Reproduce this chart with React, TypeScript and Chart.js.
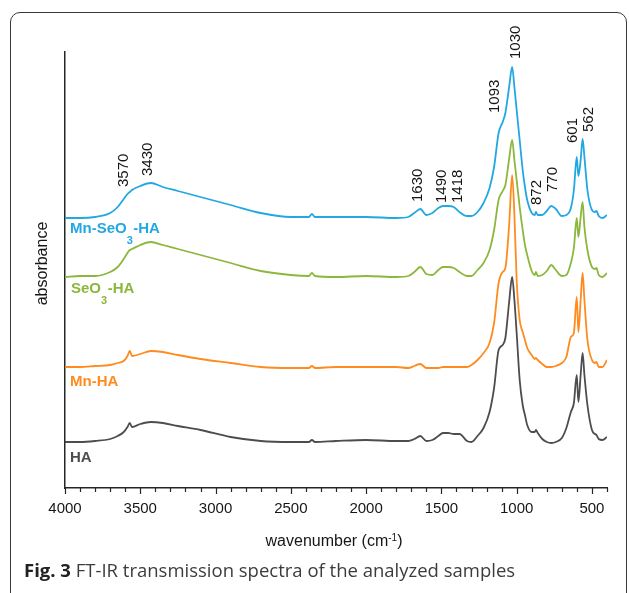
import React, { useEffect, useRef } from 'react';
import { Chart, registerables } from 'chart.js';

Chart.register(...registerables);

// ---------- data ----------
const wavenumbers = [
  4000, 3900, 3800, 3700, 3650, 3610, 3585, 3570, 3555, 3500,
  3430, 3350, 3250, 3100, 2900, 2700, 2500, 2380, 2360, 2340,
  2200, 2000, 1800, 1720, 1680, 1640, 1600, 1560, 1520, 1490,
  1455, 1418, 1380, 1330, 1300, 1260, 1220, 1180, 1150, 1120,
  1093, 1075, 1050, 1030, 1015, 1000, 980, 960, 945, 930,
  900, 880, 872, 860, 830, 800, 770, 740, 700, 670,
  640, 620, 601, 590, 575, 562, 550, 530, 500, 480,
  470, 455, 430, 400,
];

const mnSeo3HaValues = [
  2.70, 2.70, 2.71, 2.75, 2.81, 2.89, 2.94, 2.96, 2.98, 3.02,
  3.05, 3.01, 2.97, 2.91, 2.83, 2.75, 2.71, 2.71, 2.74, 2.71,
  2.71, 2.71, 2.70, 2.71, 2.75, 2.79, 2.73, 2.75, 2.80, 2.82,
  2.82, 2.81, 2.76, 2.72, 2.72, 2.76, 2.85, 3.00, 3.21, 3.55,
  3.66, 3.75, 4.01, 4.21, 4.01, 3.78, 3.48, 3.18, 3.01, 2.88,
  2.75, 2.73, 2.76, 2.73, 2.73, 2.77, 2.82, 2.79, 2.72, 2.73,
  2.80, 2.98, 3.31, 3.12, 3.28, 3.49, 3.31, 2.98, 2.78, 2.76,
  2.77, 2.72, 2.70, 2.73,
];

const seo3HaValues = [
  2.11, 2.12, 2.12, 2.16, 2.21, 2.29, 2.35, 2.38, 2.39, 2.43,
  2.46, 2.43, 2.39, 2.33, 2.25, 2.17, 2.13, 2.12, 2.15, 2.12,
  2.11, 2.12, 2.11, 2.12, 2.16, 2.21, 2.14, 2.13, 2.18, 2.21,
  2.21, 2.20, 2.16, 2.12, 2.12, 2.18, 2.25, 2.38, 2.58, 2.88,
  2.97, 3.03, 3.29, 3.48, 3.28, 3.08, 2.81, 2.58, 2.43, 2.33,
  2.17, 2.13, 2.16, 2.12, 2.13, 2.17, 2.23, 2.18, 2.12, 2.13,
  2.25, 2.40, 2.70, 2.51, 2.71, 2.86, 2.61, 2.38, 2.21, 2.19,
  2.20, 2.13, 2.11, 2.15,
];

const mnHaValues = [
  1.21, 1.21, 1.22, 1.23, 1.25, 1.27, 1.32, 1.37, 1.32, 1.34,
  1.37, 1.36, 1.33, 1.29, 1.25, 1.21, 1.20, 1.20, 1.22, 1.20,
  1.21, 1.21, 1.21, 1.20, 1.22, 1.24, 1.20, 1.20, 1.20, 1.21,
  1.21, 1.21, 1.21, 1.21, 1.23, 1.28, 1.35, 1.45, 1.65, 2.05,
  2.16, 2.20, 2.63, 3.13, 2.73, 2.08, 1.68, 1.56, 1.48, 1.40,
  1.33, 1.29, 1.30, 1.28, 1.24, 1.21, 1.21, 1.22, 1.25, 1.31,
  1.51, 1.55, 1.91, 1.56, 1.88, 2.15, 1.88, 1.48, 1.28, 1.25,
  1.26, 1.21, 1.21, 1.28,
];

const haValues = [
  0.46, 0.46, 0.47, 0.49, 0.52, 0.56, 0.61, 0.65, 0.61, 0.64,
  0.66, 0.65, 0.62, 0.58, 0.51, 0.47, 0.46, 0.46, 0.48, 0.46,
  0.47, 0.48, 0.47, 0.47, 0.49, 0.52, 0.47, 0.48, 0.52, 0.55,
  0.55, 0.54, 0.54, 0.47, 0.46, 0.52, 0.60, 0.76, 1.00, 1.38,
  1.43, 1.50, 1.86, 2.11, 1.88, 1.55, 1.08, 0.83, 0.73, 0.63,
  0.56, 0.56, 0.58, 0.55, 0.49, 0.46, 0.45, 0.46, 0.50, 0.60,
  0.76, 0.85, 1.13, 0.86, 1.13, 1.35, 1.13, 0.83, 0.58, 0.54,
  0.53, 0.49, 0.48, 0.51,
];

const seriesNames = ['HA', 'Mn-HA', 'SeO3-HA', 'Mn-SeO3-HA'];
const xTickValues = [4000, 3500, 3000, 2500, 2000, 1500, 1000, 500];
const peakLabels = ['3570', '3430', '1630', '1490', '1418', '1093', '1030', '872', '770', '601', '562'];
const peakWavenumbers = [3570, 3430, 1630, 1490, 1418, 1093, 1030, 872, 770, 601, 562];

// ---------- layout & style (not data) ----------
const SANS = '"Liberation Sans", Arial, Helvetica, sans-serif';
const AXIS_COLOR = '#262626';
const TEXT_COLOR = '#161616';
const seriesColors = ['#4d4d4d', '#ff8b1f', '#8cb73c', '#22a8e1'];
const seriesValues = [haValues, mnHaValues, seo3HaValues, mnSeo3HaValues];
const seriesLabelParts: { t: string; sub?: boolean }[][] = [
  [{ t: 'HA' }],
  [{ t: 'Mn-HA' }],
  [{ t: 'SeO' }, { t: '3', sub: true }, { t: '-HA' }],
  [{ t: 'Mn-SeO' }, { t: '3', sub: true }, { t: '-HA' }],
];
const seriesLabelBaseline = [0.26, 1.02, 1.95, 2.55]; // y value of label baseline
const seriesLabelDx = [5, 5, 6, 5];
const peakLabelDx = [-7, -4.5, -5, -2, 2.8, -9, 2, 0, 0, -5, 5.5];
const peakLabelStart = [3.01, 3.12, 2.86, 2.85, 2.85, 3.75, 4.29, 2.83, 2.96, 3.45, 3.56];
const MINOR_STEP = 100;

const overlayPlugin = {
  id: 'ftirOverlay',
  afterDraw(chart: any) {
    const { ctx, chartArea: ca } = chart;
    const xs = chart.scales.x;
    const ys = chart.scales.y;
    ctx.save();

    // tick marks (major every 500, minor every 100)
    ctx.strokeStyle = AXIS_COLOR;
    ctx.lineWidth = 1.2;
    for (let w = xs.min; w <= xs.max; w += MINOR_STEP) {
      const px = Math.round(xs.getPixelForValue(w)) + 0.5;
      const len = w % 500 === 0 ? 6 : 4;
      ctx.beginPath();
      ctx.moveTo(px, ca.bottom);
      ctx.lineTo(px, ca.bottom + len);
      ctx.stroke();
    }

    // y axis title
    ctx.fillStyle = TEXT_COLOR;
    ctx.font = `16px ${SANS}`;
    ctx.save();
    ctx.translate(ca.left - 18, (ca.top + ca.bottom) / 2 - 6.5);
    ctx.rotate(-Math.PI / 2);
    ctx.textAlign = 'center';
    ctx.textBaseline = 'alphabetic';
    ctx.fillText('absorbance', 0, 0);
    ctx.restore();

    // x axis title with superscript
    {
      const main1 = 'wavenumber (cm';
      const sup = '-1';
      const main2 = ')';
      ctx.textAlign = 'left';
      ctx.textBaseline = 'alphabetic';
      ctx.font = `16px ${SANS}`;
      const w1 = ctx.measureText(main1).width;
      const w3 = ctx.measureText(main2).width;
      ctx.font = `10px ${SANS}`;
      const w2 = ctx.measureText(sup).width;
      const total = w1 + w2 + w3;
      const cx = (ca.left + ca.right) / 2 - 2;
      const by = ca.bottom + 57.7;
      let x0 = cx - total / 2;
      ctx.font = `16px ${SANS}`;
      ctx.fillText(main1, x0, by);
      x0 += w1;
      ctx.font = `10px ${SANS}`;
      ctx.fillText(sup, x0, by - 4.5);
      x0 += w2;
      ctx.font = `16px ${SANS}`;
      ctx.fillText(main2, x0, by);
    }

    // series labels
    seriesLabelParts.forEach((parts, i) => {
      ctx.fillStyle = seriesColors[i];
      let x0 = ca.left + seriesLabelDx[i];
      const by = ys.getPixelForValue(seriesLabelBaseline[i]);
      parts.forEach((p) => {
        ctx.font = p.sub ? `bold 11px ${SANS}` : `bold 15px ${SANS}`;
        ctx.fillText(p.t, x0, p.sub ? by + 11 : by);
        x0 += ctx.measureText(p.t).width + (p.sub ? 0.5 : 0);
      });
    });

    // rotated peak labels
    ctx.fillStyle = TEXT_COLOR;
    ctx.font = `15px ${SANS}`;
    const capHalf = (0.716 * 15) / 2;
    peakLabels.forEach((label, i) => {
      const cx = xs.getPixelForValue(peakWavenumbers[i]) + peakLabelDx[i];
      const y0 = ys.getPixelForValue(peakLabelStart[i]);
      ctx.save();
      ctx.translate(cx + capHalf, y0);
      ctx.rotate(-Math.PI / 2);
      ctx.textAlign = 'left';
      ctx.textBaseline = 'alphabetic';
      ctx.fillText(label, 0, 0);
      ctx.restore();
    });

    ctx.restore();
  },
};

export default function App() {
  const canvasRef = useRef<HTMLCanvasElement>(null);

  useEffect(() => {
    if (!canvasRef.current) return;
    const chart = new Chart(canvasRef.current, {
      type: 'line',
      data: {
        datasets: seriesNames.map((name, i) => ({
          label: name,
          data: wavenumbers.map((w, j) => ({ x: w, y: seriesValues[i][j] })),
          borderColor: seriesColors[i],
          backgroundColor: seriesColors[i],
          borderWidth: 1.8,
          pointRadius: 0,
          fill: false,
          cubicInterpolationMode: 'monotone' as const,
        })),
      },
      options: {
        responsive: false,
        animation: false,
        devicePixelRatio: 1,
        events: [],
        layout: { padding: { left: 65, right: 22, top: 52, bottom: 0 } },
        plugins: {
          legend: { display: false },
          tooltip: { enabled: false },
          title: { display: false },
        },
        scales: {
          x: {
            type: 'linear',
            min: 400,
            max: 4000,
            reverse: true,
            afterBuildTicks: (s: any) => {
              s.ticks = xTickValues.map((v) => ({ value: v }));
            },
            afterFit: (s: any) => {
              s.height = 105;
            },
            grid: { display: false, drawTicks: false },
            border: { display: true, color: AXIS_COLOR, width: 1.5 },
            ticks: {
              padding: 12,
              autoSkip: false,
              maxRotation: 0,
              color: TEXT_COLOR,
              font: { family: SANS, size: 15 },
              callback: (v: any) => String(v),
            },
          },
          y: {
            type: 'linear',
            min: 0,
            max: 4.36,
            afterFit: (s: any) => {
              s.width = 0;
            },
            grid: { display: false, drawTicks: false },
            border: { display: true, color: AXIS_COLOR, width: 1.5 },
            ticks: { display: false },
          },
        },
      },
      plugins: [overlayPlugin],
    });
    return () => chart.destroy();
  }, []);

  return (
    <div
      style={{
        position: 'absolute',
        left: 0,
        top: 0,
        width: 629,
        height: 593,
        background: '#ffffff',
        overflow: 'hidden',
      }}
    >
      <div
        style={{
          position: 'absolute',
          left: 10,
          top: 12,
          width: 617,
          height: 600,
          border: '1.4px solid #3a3a3a',
          borderRadius: 10,
          boxSizing: 'border-box',
        }}
      />
      <canvas
        ref={canvasRef}
        width={629}
        height={593}
        style={{ position: 'absolute', left: 0, top: 0, width: 629, height: 593 }}
      />
      <div
        style={{
          position: 'absolute',
          left: 24,
          top: 560.5,
          fontFamily: '"Open Sans", sans-serif',
          fontSize: 18.5,
          lineHeight: '18.5px',
          color: '#3c3c3c',
          whiteSpace: 'nowrap',
        }}
      >
        <b style={{ color: '#222222', fontWeight: 700 }}>Fig. 3</b> FT-IR transmission spectra of the analyzed samples
      </div>
    </div>
  );
}
